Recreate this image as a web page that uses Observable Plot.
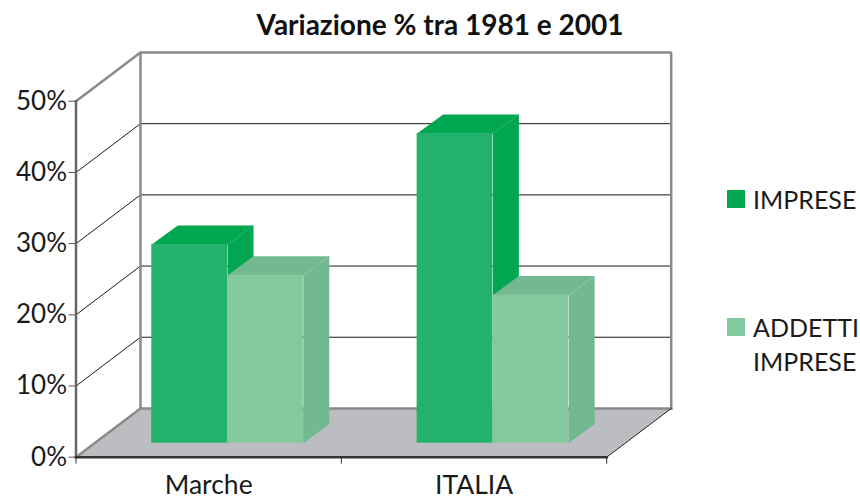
<!DOCTYPE html>
<html>
<head>
<meta charset="utf-8">
<script src="https://cdn.jsdelivr.net/npm/d3@7"></script>
<script src="https://cdn.jsdelivr.net/npm/@observablehq/plot@0.6"></script>
<style>
  html, body { margin: 0; padding: 0; background: #fff; overflow: hidden; }
  #page { position: relative; width: 860px; height: 500px; font-family: Lato, sans-serif; color: #1a1a1a; }
  #title { height: 44px; line-height: 48px; text-align: center; font-weight: 700; font-size: 28px; color: #111; width: 880px; white-space: nowrap; }
  #chart svg { display: block; }
  .key { position: absolute; left: 727px; width: 18px; height: 18px; }
  .lab { position: absolute; left: 753px; font-size: 25px; line-height: 34px; white-space: nowrap; }
</style>
</head>
<body>
<div id="page">
  <div id="title"></div>
  <div id="chart"></div>
  <div id="legend"></div>
</div>
<script>
const titleText = "Variazione % tra 1981 e 2001";
const categories = ["Marche", "ITALIA"];
const seriesNames = ["IMPRESE", "ADDETTI IMPRESE"];
const impreseValues = [27.9, 43.5];
const addettiValues = [23.6, 20.8];
const yTicks = [0, 10, 20, 30, 40, 50];
const gridValues = [10, 20, 30, 40];
const frontColors = ["#22B26C", "#82C99D"];
const shadeColors = ["#00A650", "#72B891"];

// 3D projection expressed in scale units
const wallDX = 0.243, wallDY = 6.85;   // depth of the whole box
const barDX = 0.098, barDY = 2.67;      // depth of one bar
const liftX = 0, liftY = 1.97;          // bars stand slightly into the floor
const barStart = 0.2855, barWidth = 0.2855;
const maxCat = categories.length;

const poly = (pts, fill) => Plot.line(pts, {x: d => d[0], y: d => d[1], fill, stroke: "none"});
const seg = (pts, stroke, strokeWidth) => Plot.line(pts, {x: d => d[0], y: d => d[1], stroke, strokeWidth, strokeLinecap: "square", strokeLinejoin: "miter"});

const marks = [];
// floor
marks.push(poly([[0, 0], [maxCat, 0], [maxCat + wallDX, wallDY], [wallDX, wallDY]], "#BCBDC0"));
// grid
for (const g of gridValues) {
  marks.push(seg([[0, g], [wallDX, g + wallDY], [maxCat + wallDX, g + wallDY]], "#1a1a1a", 1));
}
// walls
marks.push(seg([[wallDX, wallDY], [maxCat + wallDX, wallDY]], "#8a8a8a", 2.5));
marks.push(seg([[wallDX, wallDY], [wallDX, 50 + wallDY], [maxCat + wallDX, 50 + wallDY], [maxCat + wallDX, wallDY]], "#8a8a8a", 2.5));
marks.push(seg([[0, 50], [wallDX, 50 + wallDY]], "#8a8a8a", 2.5));
marks.push(seg([[0, 0], [wallDX, wallDY]], "#8a8a8a", 2.5));
marks.push(seg([[maxCat, 0], [maxCat + wallDX, wallDY]], "#222", 1));
// bars
[impreseValues, addettiValues].forEach((vals, s) => {
  vals.forEach((v, c) => {
    const x0 = c + barStart + s * barWidth + liftX, x1 = x0 + barWidth;
    const y0 = liftY, y1 = liftY + v;
    marks.push(poly([[x1, y0], [x1 + barDX, y0 + barDY], [x1 + barDX, y1 + barDY], [x1, y1]], shadeColors[s]));
    marks.push(poly([[x0, y1], [x1, y1], [x1 + barDX, y1 + barDY], [x0 + barDX, y1 + barDY]], shadeColors[s]));
    marks.push(seg([[x1, y1], [x1 + barDX, y1 + barDY]], frontColors[s], 0.6));
    marks.push(Plot.rect([{x1: x0, x2: x1, y1: y0, y2: y1}], {x1: "x1", x2: "x2", y1: "y1", y2: "y2", fill: frontColors[s]}));
  });
});
// front axes
marks.push(seg([[0, 0], [0, 50]], "#666", 2.5));
marks.push(seg([[0, 0], [maxCat, 0]], "#333", 2.5));
marks.push(Plot.axisY({ticks: yTicks, tickSize: 7, tickPadding: 2, tickFormat: d => d + "%", label: null, fontSize: 26, stroke: "#555", fill: "#1a1a1a"}));
marks.push(Plot.axisX({ticks: [0, 1, 2], tickSize: 7, tickFormat: () => "", label: null, stroke: "#333"}));
marks.push(Plot.axisX({ticks: categories.map((_, i) => i + 0.5), tickSize: 0, tickPadding: 18, tickFormat: d => categories[Math.floor(d)], label: null, fontSize: 26.5, fill: "#1a1a1a"}));

const chart = Plot.plot({
  width: 860,
  height: 456,
  marginTop: 8,
  marginBottom: 43.3,
  marginLeft: 75.5,
  marginRight: 189.3,
  x: {type: "linear", domain: [0, maxCat + wallDX], axis: null},
  y: {type: "linear", domain: [0, 50 + wallDY], axis: null},
  style: {fontFamily: "Lato, sans-serif", background: "transparent", overflow: "visible"},
  marks
});
document.getElementById("chart").appendChild(chart);
document.getElementById("title").textContent = titleText;

const legend = document.getElementById("legend");
const legendLines = [["IMPRESE"], ["ADDETTI", "IMPRESE"]];
const legendTops = [190, 318];
seriesNames.forEach((name, i) => {
  const k = document.createElement("div");
  k.className = "key";
  k.style.top = legendTops[i] + "px";
  k.style.background = i === 0 ? shadeColors[0] : frontColors[1];
  legend.appendChild(k);
  const t = document.createElement("div");
  t.className = "lab";
  t.style.top = (legendTops[i] - 8) + "px";
  t.innerHTML = legendLines[i].join("<br>");
  legend.appendChild(t);
});
</script>
</body>
</html>
